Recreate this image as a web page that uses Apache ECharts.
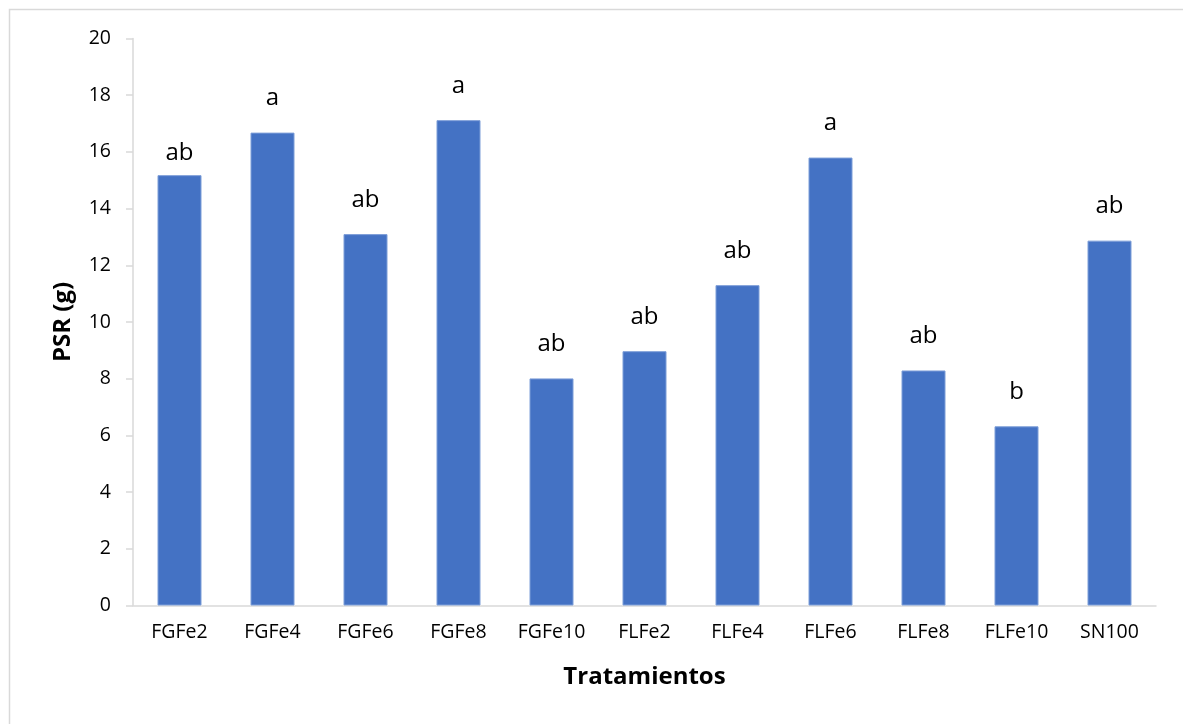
<!DOCTYPE html>
<html>
<head>
<meta charset="utf-8">
<script src="https://cdn.jsdelivr.net/npm/echarts@6/dist/echarts.min.js"></script>
<style>html,body{margin:0;padding:0;background:#fff;}#c{width:1183px;height:724px;}</style>
</head>
<body>
<div id="c"></div>
<script>
const categories = ['FGFe2','FGFe4','FGFe6','FGFe8','FGFe10','FLFe2','FLFe4','FLFe6','FLFe8','FLFe10','SN100'];
const values = [15.18, 16.68, 13.10, 17.12, 8.01, 8.97, 11.30, 15.80, 8.29, 6.32, 12.87];
const letters = ['ab','a','ab','a','ab','ab','ab','a','ab','b','ab'];
const yTicks = [0, 20, 2];

const font = '"Open Sans", "Noto Sans", sans-serif';
// the first label sits closer to its bar in the reference
const seriesData = values.map((v, i) => i === 0 ? {value: v, label: {distance: 10}} : v);

const chart = echarts.init(document.getElementById('c'));
chart.setOption({
  animation: false,
  backgroundColor: '#fff',
  graphic: [{
    type: 'rect', shape: {x: 9.5, y: 9.5, width: 1200, height: 800},
    style: {fill: 'none', stroke: '#d9d9d9', lineWidth: 1.5}, z: -10, silent: true
  }],
  grid: {left: 133, right: 27, top: 38.5, bottom: 118.5, containLabel: false},
  xAxis: {
    type: 'category', data: categories,
    name: 'Tratamientos', nameLocation: 'middle', nameGap: 60,
    nameTextStyle: {fontFamily: font, fontWeight: 'bold', fontSize: 24, color: '#000'},
    axisLine: {lineStyle: {color: '#d9d9d9', width: 1.5}},
    axisTick: {show: false},
    axisLabel: {fontFamily: font, fontSize: 19.5, color: '#000', margin: 17}
  },
  yAxis: {
    type: 'value', min: yTicks[0], max: yTicks[1], interval: yTicks[2],
    name: 'PSR (g)', nameLocation: 'middle', nameGap: 58,
    nameTextStyle: {fontFamily: font, fontWeight: 'bold', fontSize: 24, color: '#000'},
    axisLine: {show: true, lineStyle: {color: '#d9d9d9', width: 1.5}},
    axisTick: {show: true, length: 7, lineStyle: {color: '#d9d9d9', width: 1.5}},
    splitLine: {show: false},
    axisLabel: {fontFamily: font, fontSize: 19.5, color: '#000', margin: 22}
  },
  series: [{
    type: 'bar', data: seriesData, barWidth: 44,
    itemStyle: {color: '#4472C4', borderColor: '#7d9ed8', borderWidth: 1},
    label: {
      show: true, position: 'top', distance: 22,
      fontFamily: font, fontSize: 24, color: '#000',
      formatter: p => letters[p.dataIndex]
    }
  }]
});
</script>
</body>
</html>
